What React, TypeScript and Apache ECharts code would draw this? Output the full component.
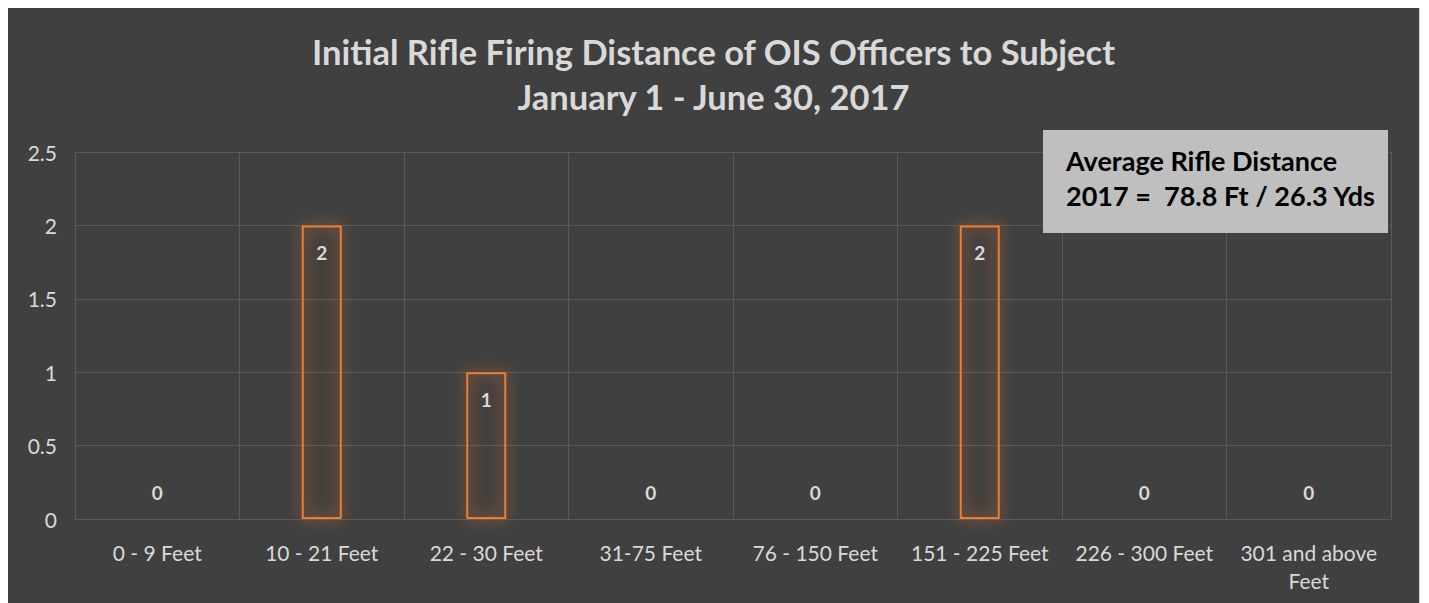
import React, { useEffect, useRef } from "react";
import * as echarts from "echarts";

const categories = [
  "0 - 9 Feet",
  "10 - 21 Feet",
  "22 - 30 Feet",
  "31-75 Feet",
  "76 - 150 Feet",
  "151 - 225 Feet",
  "226 - 300 Feet",
  "301 and above\nFeet",
];
const counts = [0, 2, 1, 0, 0, 2, 0, 0];
const titleText = "Initial Rifle Firing Distance of OIS Officers to Subject";
const subtitleText = "January 1 - June 30, 2017";
const noteLines = ["Average Rifle Distance", "2017 =  78.8 Ft / 26.3 Yds"];

const FONT = "Lato, 'Open Sans', sans-serif";
const LIGHT = "#d9d9d9";
const ORANGE = "#ED7D31";

export default function App() {
  const ref = useRef<HTMLDivElement>(null);
  useEffect(() => {
    if (!ref.current) return;
    const chart = echarts.init(ref.current, undefined, { renderer: "svg" });
    chart.setOption({
      animation: false,
      backgroundColor: "#404040",
      textStyle: { fontFamily: FONT },
      title: [
        {
          text: titleText,
          left: "center",
          top: 21,
          textStyle: { color: LIGHT, fontSize: 34.5, fontWeight: "bold", fontFamily: FONT },
        },
        {
          text: subtitleText,
          left: "center",
          top: 66,
          textStyle: { color: LIGHT, fontSize: 34.5, fontWeight: "bold", fontFamily: FONT },
        },
      ],
      grid: { left: 67, right: 28, top: 144, bottom: 84 },
      xAxis: {
        type: "category",
        data: categories,
        boundaryGap: true,
        axisLine: { show: true, lineStyle: { color: "#595959", width: 1 } },
        axisTick: { show: false },
        splitLine: { show: true, lineStyle: { color: "#595959", width: 1 } },
        axisLabel: {
          color: LIGHT,
          fontSize: 21,
          margin: 19,
          lineHeight: 28,
          interval: 0,
          fontFamily: FONT,
        },
      },
      yAxis: {
        type: "value",
        min: 0,
        max: 2.5,
        interval: 0.5,
        axisLine: { show: false },
        axisTick: { show: false },
        splitLine: { lineStyle: { color: "#595959", width: 1 } },
        axisLabel: { color: LIGHT, fontSize: 21, margin: 18, fontFamily: FONT },
      },
      series: [
        {
          type: "bar",
          barWidth: 40,
          data: counts.map((v) => ({
            value: v,
            label: v === 0
              ? { position: "top", distance: 16 }
              : { position: "insideTop", distance: 18 },
          })),
          itemStyle: {
            color: "rgba(64,64,64,0.02)",
            borderColor: ORANGE,
            borderWidth: 2,
            shadowBlur: 14,
            shadowColor: "rgba(237,125,49,1)",
          },
          label: {
            show: true,
            color: LIGHT,
            fontSize: 19,
            fontWeight: "bold",
            fontFamily: FONT,
          },
        },
      ],
      graphic: [
        {
          type: "rect",
          left: 1035,
          top: 122,
          shape: { width: 345, height: 103 },
          style: { fill: "#bfbfbf" },
          z: 10,
        },
        {
          type: "text",
          left: 1058,
          top: 139,
          style: {
            text: noteLines[0],
            fill: "#000",
            font: `bold 27px ${FONT}`,
          },
          z: 11,
        },
        {
          type: "text",
          left: 1058,
          top: 174,
          style: {
            text: noteLines[1],
            fill: "#000",
            font: `bold 27px ${FONT}`,
          },
          z: 11,
        },
      ],
    });
    return () => chart.dispose();
  }, []);
  return (
    <div
      ref={ref}
      style={{ width: 1411, height: 595, outline: "1px solid #d0d0d0" }}
    />
  );
}
